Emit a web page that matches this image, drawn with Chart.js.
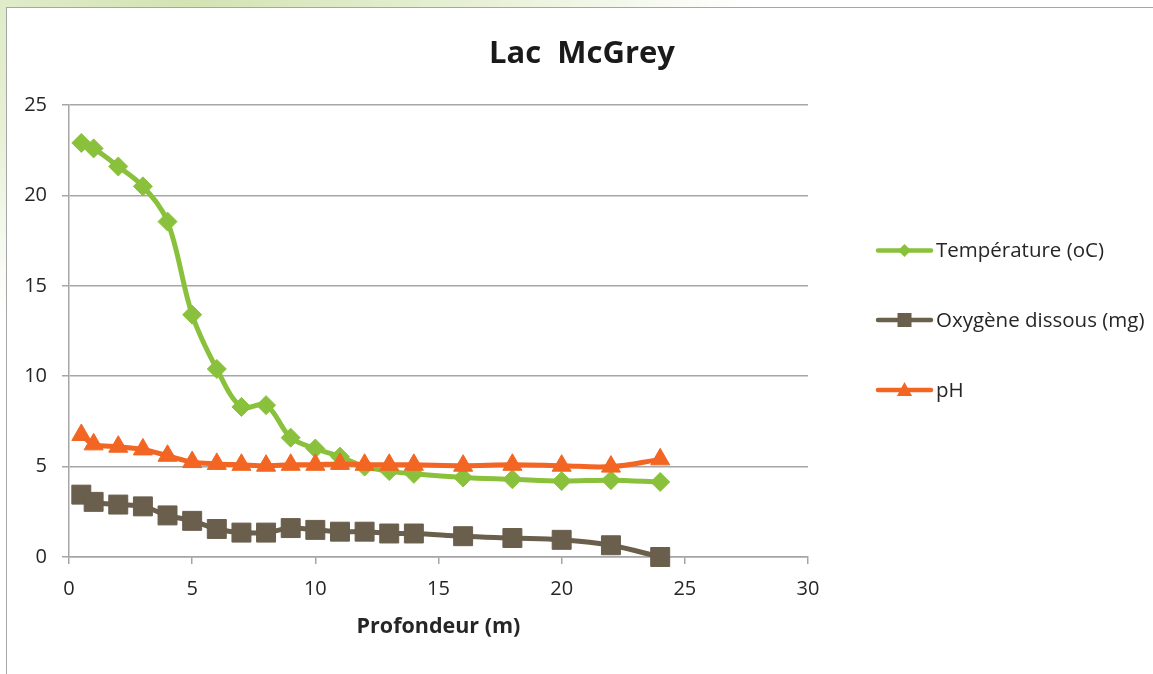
<!DOCTYPE html>
<html>
<head>
<meta charset="utf-8">
<script src="https://cdn.jsdelivr.net/npm/chart.js@4/dist/chart.umd.min.js"></script>
<style>
  html, body { margin: 0; padding: 0; width: 1153px; height: 674px; overflow: hidden; }
  body {
    background:
      radial-gradient(ellipse 560px 330px at 190px 0px, rgba(200,220,160,0.8) 0%, rgba(215,230,185,0.55) 55%, rgba(255,255,255,0) 100%),
      #ffffff;
  }
  #panel {
    position: absolute; left: 6px; top: 7px; width: 1160px; height: 680px;
    background: #ffffff; border-left: 1.5px solid #a6a6a6; border-top: 1.5px solid #a6a6a6;
  }
  #c { position: absolute; left: 0; top: 0; }
</style>
</head>
<body>
<div id="panel"></div>
<canvas id="c" width="1153" height="674"></canvas>
<script>
// ---- data ----
const chartTitle = 'Lac  McGrey';
const xAxisTitle = 'Profondeur (m)';
const depths = [0.5, 1, 2, 3, 4, 5, 6, 7, 8, 9, 10, 11, 12, 13, 14, 16, 18, 20, 22, 24];
const temperature = [22.9, 22.6, 21.6, 20.5, 18.55, 13.4, 10.4, 8.3, 8.4, 6.6, 6.0, 5.55, 5.0, 4.75, 4.6, 4.4, 4.3, 4.2, 4.25, 4.15];
const oxygen = [3.45, 3.05, 2.9, 2.8, 2.3, 2.0, 1.55, 1.35, 1.35, 1.6, 1.5, 1.4, 1.4, 1.3, 1.3, 1.15, 1.05, 0.95, 0.65, 0.0];
const ph = [6.75, 6.23, 6.1, 5.95, 5.6, 5.25, 5.15, 5.1, 5.05, 5.1, 5.1, 5.15, 5.1, 5.1, 5.1, 5.05, 5.1, 5.05, 5.0, 5.4];
const seriesNames = ['Température (oC)', 'Oxygène dissous (mg)', 'pH'];
const xTicks = [0, 5, 10, 15, 20, 25, 30];
const yTicks = [0, 5, 10, 15, 20, 25];

const GREEN = '#8AC13C', BROWN = '#6A5E4C', ORANGE = '#F26522';
const FONT = '"Open Sans", "Liberation Sans", sans-serif';
const TEXT = '#262626';

function pts(ys) { return depths.map((x, i) => ({ x: x, y: ys[i] })); }

function drawMarker(ctx, style, x, y, r) {
  ctx.beginPath();
  if (style === 'rectRot') {
    ctx.moveTo(x - r, y); ctx.lineTo(x, y - r); ctx.lineTo(x + r, y); ctx.lineTo(x, y + r);
  } else if (style === 'rect') {
    ctx.rect(x - r, y - r, 2 * r, 2 * r);
  } else {
    ctx.moveTo(x, y - r); ctx.lineTo(x + r * 0.95, y + r * 0.75); ctx.lineTo(x - r * 0.95, y + r * 0.75);
  }
  ctx.closePath();
  ctx.fill();
}

const decorPlugin = {
  id: 'decor',
  afterDraw(chart) {
    const ctx = chart.ctx;
    ctx.save();
    // title
    ctx.fillStyle = '#1a1a1a';
    ctx.font = 'bold 31px ' + FONT;
    ctx.textAlign = 'center';
    ctx.textBaseline = 'alphabetic';
    ctx.fillText(chartTitle, 582, 63);
    // legend
    const rows = [250.5, 320, 390];
    const baselines = [257, 327, 397];
    const markerStyles = ['rectRot', 'rect', 'triangle'];
    const markerSizes = [6.5, 7, 8];
    chart.data.datasets.forEach((ds, i) => {
      const y = rows[i];
      ctx.strokeStyle = ds.borderColor;
      ctx.lineWidth = 4.5;
      ctx.lineCap = 'round';
      ctx.beginPath(); ctx.moveTo(878, y); ctx.lineTo(931, y); ctx.stroke();
      ctx.fillStyle = ds.borderColor;
      drawMarker(ctx, markerStyles[i], 904.5, y, markerSizes[i]);
      ctx.fillStyle = TEXT;
      ctx.font = '20.5px ' + FONT;
      ctx.textAlign = 'left';
      ctx.textBaseline = 'alphabetic';
      ctx.fillText(ds.label, 936, baselines[i]);
    });
    ctx.restore();
  }
};

new Chart(document.getElementById('c'), {
  type: 'line',
  data: {
    datasets: [
      { label: seriesNames[0], data: pts(temperature), borderColor: GREEN, backgroundColor: GREEN,
        pointStyle: 'rectRot', pointRadius: 9.5, pointBorderWidth: 1, pointBorderColor: GREEN, pointBackgroundColor: GREEN,
        borderWidth: 5, tension: 0.35, order: 2, clip: false },
      { label: seriesNames[1], data: pts(oxygen), borderColor: BROWN, backgroundColor: BROWN,
        pointStyle: 'rect', pointRadius: 13.4, pointBorderWidth: 1, pointBorderColor: BROWN, pointBackgroundColor: BROWN,
        borderWidth: 5, tension: 0.35, order: 1, clip: false },
      { label: seriesNames[2], data: pts(ph), borderColor: ORANGE, backgroundColor: ORANGE,
        pointStyle: 'triangle', pointRadius: 11, pointBorderWidth: 1, pointBorderColor: ORANGE, pointBackgroundColor: ORANGE,
        borderWidth: 5, tension: 0.35, order: 0, clip: false }
    ]
  },
  options: {
    responsive: false,
    animation: false,
    devicePixelRatio: 1,
    layout: { padding: { top: 105, right: 345, left: 0, bottom: 0 } },
    plugins: { legend: { display: false }, title: { display: false }, tooltip: { enabled: false } },
    scales: {
      x: {
        type: 'linear', min: 0, max: 30,
        afterBuildTicks(s) { s.ticks = xTicks.map(v => ({ value: v })); },
        afterFit(s) { s.height = 117; },
        grid: { drawOnChartArea: false, drawTicks: true, tickLength: 7, color: '#a6a6a6', lineWidth: 1.5 },
        border: { display: true, color: '#a6a6a6', width: 1.5 },
        ticks: { color: TEXT, font: { family: FONT, size: 20 }, padding: 13, maxRotation: 0 },
        title: { display: true, text: xAxisTitle, color: TEXT, font: { family: FONT, size: 21.5, weight: 'bold' }, padding: { top: 0, bottom: 34 } }
      },
      y: {
        type: 'linear', min: 0, max: 25,
        afterBuildTicks(s) { s.ticks = yTicks.map(v => ({ value: v })); },
        afterFit(s) { s.width = 69; },
        grid: { drawTicks: true, tickLength: 7, color: '#a6a6a6', lineWidth: 1.5 },
        border: { display: true, color: '#a6a6a6', width: 1.5 },
        ticks: { color: TEXT, font: { family: FONT, size: 20 }, padding: 15 }
      }
    }
  },
  plugins: [decorPlugin]
});
</script>
</body>
</html>
